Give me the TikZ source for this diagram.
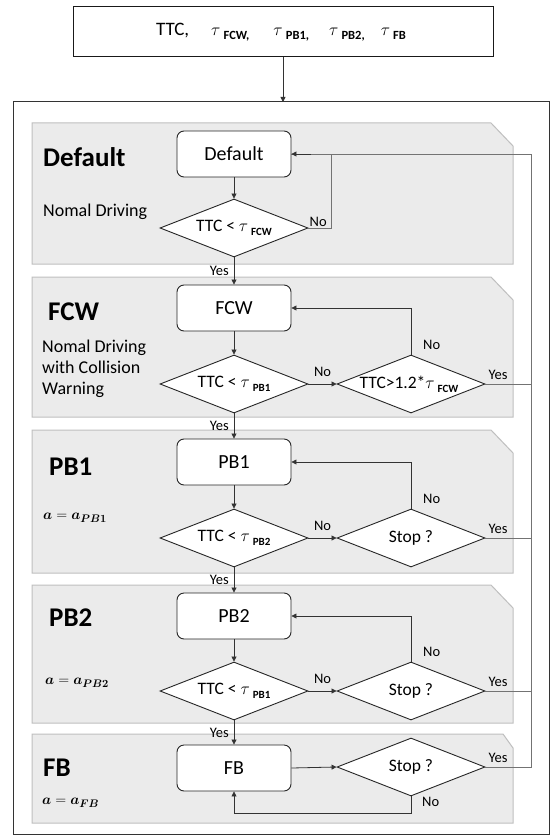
\documentclass[tikz,border=0pt]{standalone}
\usepackage{amsmath}
\usepackage{bm}
\usepackage{fontspec}
\setmainfont{Carlito}
\usetikzlibrary{shapes.geometric,arrows.meta,calc}
\newcommand\subt[1]{\,\raisebox{-0.45ex}{\fontsize{11}{13}\selectfont\bfseries #1}}
\newcommand\subtt[1]{\,\raisebox{-0.45ex}{\fontsize{12.5}{14}\selectfont\bfseries #1}}
\begin{document}
\begin{tikzpicture}[x=1pt,y=-1pt,
  line/.style={draw=black!80, line width=0.8pt},
  arr/.style={line, -{Triangle[length=5pt,width=5pt]}},
  gline/.style={draw=black!55, line width=0.8pt},
  proc/.style={draw=black!85, line width=0.9pt, rounded corners=7pt, fill=white,
    minimum width=114pt, minimum height=46pt, inner sep=0pt, font=\fontsize{20}{22}\selectfont},
  dec/.style={diamond, draw=black!85, line width=0.9pt, fill=white, aspect=2.5,
    minimum width=148pt, minimum height=58pt, inner sep=0pt},
  dtxt/.style={inner sep=0pt, font=\fontsize{17.5}{20}\selectfont},
  lbl/.style={font=\fontsize{14.5}{16}\selectfont, inner sep=0pt},
  ttl/.style={font=\fontsize{27}{30}\selectfont\bfseries, anchor=west, inner sep=0pt},
  desc/.style={font=\fontsize{18}{21}\selectfont, anchor=west, align=left, inner sep=0pt},
  mth/.style={font=\fontsize{15.5}{18}\selectfont, anchor=west, inner sep=0pt},
  panel/.style={fill=black!8, draw=black!25, line width=1pt}]
\useasboundingbox (0,0) rectangle (552,837);
\fill[white] (0,0) rectangle (552,837);
% top box
\node[draw=black!90, line width=1pt, minimum width=420pt, minimum height=50pt, inner sep=0pt] (top) at (283,32) {};
\node[inner sep=0pt, font=\fontsize{19}{21}\selectfont] (toptxt) at (281,32)
  {TTC,\hspace{22pt}$\tau$\subtt{FCW,}\hspace{24pt}$\tau$\subtt{PB1,}\hspace{20pt}$\tau$\subtt{PB2,}\hspace{16pt}$\tau$\subtt{FB}};
% outer box
\draw[draw=black!80, line width=1pt] (13,102) rectangle (549,834);
\coordinate (tin) at (283,102);
\draw[arr] (top.south -| tin) -- (tin);
% panels
\draw[panel] (32,123) -- (491,123) -- (513,146) -- (513,264) -- (32,264) -- cycle;
\draw[panel] (32,277) -- (491,277) -- (513,300) -- (513,417) -- (32,417) -- cycle;
\draw[panel] (32,430) -- (491,430) -- (513,453) -- (513,573) -- (32,573) -- cycle;
\draw[panel] (32,585) -- (491,585) -- (513,608) -- (513,723) -- (32,723) -- cycle;
\draw[panel] (32,734) -- (503,734) -- (513,748) -- (513,823) -- (32,823) -- cycle;
% titles
\node[ttl] (tdef) at (43,157) {Default};
\node[desc] (ddef) at (43,212) {Nomal Driving};
\node[ttl] (tfcw) at (48,312) {FCW};
\node[desc] (dfcw) at (42,369) {Nomal Driving\\with Collision\\Warning};
\node[ttl] (tpb1) at (49,467) {PB1};
\node[mth] (dpb1) at (43,518) {$\bm{a} = \bm{a_{PB1}}$};
\node[ttl] (tpb2) at (49,618) {PB2};
\node[mth] (dpb2) at (45,683) {$\bm{a} = \bm{a_{PB2}}$};
\node[ttl] (tfb) at (43,768) {FB};
\node[mth] (dfb) at (42,803) {$\bm{a} = \bm{a_{FB}}$};
% process boxes
\node[proc] (p0) at (234,154) {Default};
\node[proc] (p1) at (234,308) {FCW};
\node[proc] (p2) at (234,462) {PB1};
\node[proc] (p3) at (234,616) {PB2};
\node[proc] (p4) at (234,768) {FB};
% decisions
\node[dec] (d0) at (234,228) {};
\node[dec] (d1) at (234,384) {};
\node[dec] (e1) at (411,384) {};
\node[dec] (d2) at (234,538) {};
\node[dec] (e2) at (411,538) {};
\node[dec] (d3) at (234,691) {};
\node[dec] (e3) at (411,691) {};
\node[dec] (e4) at (411,767) {};
\node[dtxt] (d0t) at (d0) {TTC < $\tau$\subt{FCW}};
\node[dtxt] (d1t) at (d1) {TTC < $\tau$\subt{PB1}};
\node[dtxt] (e1t) at ($(e1)+(-2,0)$) {TTC>1.2*$\tau$\subt{FCW}};
\node[dtxt] (d2t) at (d2) {TTC < $\tau$\subt{PB2}};
\node[dtxt] (e2t) at (e2) {Stop ?};
\node[dtxt] (d3t) at (d3) {TTC < $\tau$\subt{PB1}};
\node[dtxt] (e3t) at (e3) {Stop ?};
\node[dtxt] (e4t) at (e4) {Stop ?};
% right return line
\coordinate (rx) at (531,0);
\draw[gline] (e1.east) -- (rx |- e1.east);
\draw[gline] (e2.east) -- (rx |- e2.east);
\draw[gline] (e3.east) -- (rx |- e3.east);
\draw[gline] (e4.east) -- (rx |- e4.east) -- (rx |- p0.east) -- (p0.east);
\draw[arr] ($(p0.east)+(20,0)$) -- (p0.east);
% default loop
\coordinate (lx) at (331,0);
\draw[gline] (d0.east) -| (lx |- p0.east);
% vertical flow
\draw[arr] (p0) -- (d0);
\draw[arr] (d0) -- (p1);
\draw[arr] (p1) -- (d1);
\draw[arr] (d1) -- (p2);
\draw[arr] (p2) -- (d2);
\draw[arr] (d2) -- (p3);
\draw[arr] (p3) -- (d3);
\draw[arr] (d3) -- (p4);
% No branches
\draw[arr] (d1.east) -- (e1.west);
\draw[arr] (d2.east) -- (e2.west);
\draw[arr] (d3.east) -- (e3.west);
\draw[arr] (p4.east) -- (e4.west);
\draw[arr] (e1.north) |- (p1.east);
\draw[arr] (e2.north) |- (p2.east);
\draw[arr] (e3.north) |- (p3.east);
\coordinate (fbl) at (0,813);
\draw[arr] (e4.south) -- (e4.south |- fbl) -- (p4.south |- fbl) -- (p4.south);
% labels
\node[lbl, anchor=east] at ($(d0.south)!0.5!(p1.north)+(-5,0)$) {Yes};
\node[lbl, anchor=east] at ($(d1.south)!0.5!(p2.north)+(-5,0)$) {Yes};
\node[lbl, anchor=east] at ($(d2.south)!0.5!(p3.north)+(-5,0)$) {Yes};
\node[lbl, anchor=east] at ($(d3.south)!0.5!(p4.north)+(-5,0)$) {Yes};
\node[lbl, anchor=south west] at ($(d0.east)+(1,-1)$) {No};
\node[lbl, anchor=south] at ($(d1.east)!0.5!(e1.west)+(0,-7)$) {No};
\node[lbl, anchor=south] at ($(d2.east)!0.5!(e2.west)+(0,-7)$) {No};
\node[lbl, anchor=south] at ($(d3.east)!0.5!(e3.west)+(0,-7)$) {No};
\node[lbl, anchor=south west] at ($(e1.north)+(12,-5)$) {No};
\node[lbl, anchor=south west] at ($(e2.north)+(12,-5)$) {No};
\node[lbl, anchor=south west] at ($(e3.north)+(12,-5)$) {No};
\node[lbl, anchor=north west] at ($(e4.south)+(11,1)$) {No};
\node[lbl, anchor=south west] at ($(e1.east)+(3,-4)$) {Yes};
\node[lbl, anchor=south west] at ($(e2.east)+(3,-4)$) {Yes};
\node[lbl, anchor=south west] at ($(e3.east)+(3,-4)$) {Yes};
\node[lbl, anchor=south west] at ($(e4.east)+(3,-4)$) {Yes};
\end{tikzpicture}
\end{document}
